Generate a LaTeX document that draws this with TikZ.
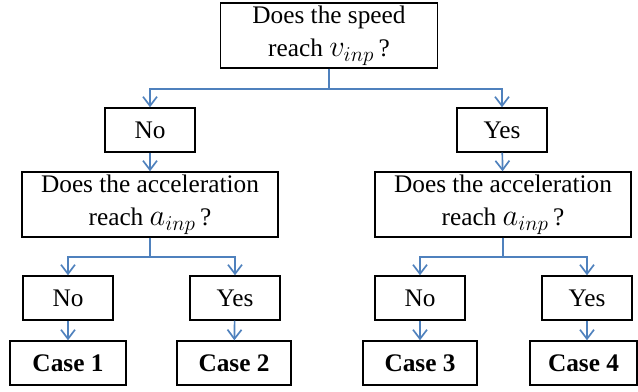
\documentclass[tikz,border=0pt]{standalone}
\usepackage{fontspec}
\setmainfont{Liberation Serif}
\usepackage{tikz}
\usetikzlibrary{arrows.meta}
\definecolor{flowblue}{RGB}{79,129,189}
\newcommand{\mvar}[1]{\scalebox{1.25}{$#1$}}

\begin{document}
\begin{tikzpicture}[x=0.025cm, y=-0.025cm,
		box/.style={shape=rectangle, draw=black, line width=1pt, align=center, inner sep=0pt, font=\fontsize{18}{24}\selectfont},
		answer/.style={box, minimum width=2.25cm, minimum height=1.1cm},
		question/.style={box, minimum width=6.4cm, minimum height=1.625cm},
		casebox/.style={box, minimum width=2.85cm, minimum height=1.1cm, font=\fontsize{18}{24}\selectfont\bfseries},
		flow/.style={draw=flowblue, line width=1.2pt, -{Straight Barb[length=2.3mm, width=3.5mm]}}]
		\useasboundingbox (0,0) rectangle (638,392);
		% Questions:
		\node[box, minimum width=5.425cm, minimum height=1.625cm](Q1) at (329, 35.5){Does the speed\\reach \mvar{v_{inp}}\,?};
		\node[question](A1) at (150, 204.5){Does the acceleration\\reach \mvar{a_{inp}}\,?};
		\node[question](A2) at (503, 204.5){Does the acceleration\\reach \mvar{a_{inp}}\,?};
		% Answers:
		\node[answer](N1) at (150, 130){No};
		\node[answer](Y1) at (502, 130){Yes};
		\node[answer](N2) at (68, 298){No};
		\node[answer](Y2) at (235, 298){Yes};
		\node[answer](N3) at (420, 298){No};
		\node[answer](Y3) at (587, 298){Yes};
		% Cases:
		\node[casebox, minimum width=2.9cm](C1) at (68, 363){Case 1};
		\node[casebox](C2) at (234, 363){Case 2};
		\node[casebox](C3) at (420, 363){Case 3};
		\node[casebox, minimum width=2.675cm](C4) at (583.5, 363){Case 4};
		% Connectors:
		\draw[flow] (Q1.south) -- ++(0, 20) -| (N1.north);
		\draw[flow] (Q1.south) -- ++(0, 20) -| (Y1.north);
		\draw[flow] (N1) -- (A1);
		\draw[flow] (Y1) -- (A2);
		\draw[flow] (A1.south) -- ++(0, 19) -| (N2.north);
		\draw[flow] (A1.south) -- ++(0, 19) -| (Y2.north);
		\draw[flow] (A2.south) -- ++(0, 19) -| (N3.north);
		\draw[flow] (A2.south) -- ++(0, 19) -| (Y3.north);
		\draw[flow] (N2) -- (C1);
		\draw[flow] (Y2) -- (C2);
		\draw[flow] (N3) -- (C3);
		\draw[flow] (Y3) -- (Y3 |- C4.north);
	\end{tikzpicture}
\end{document}
